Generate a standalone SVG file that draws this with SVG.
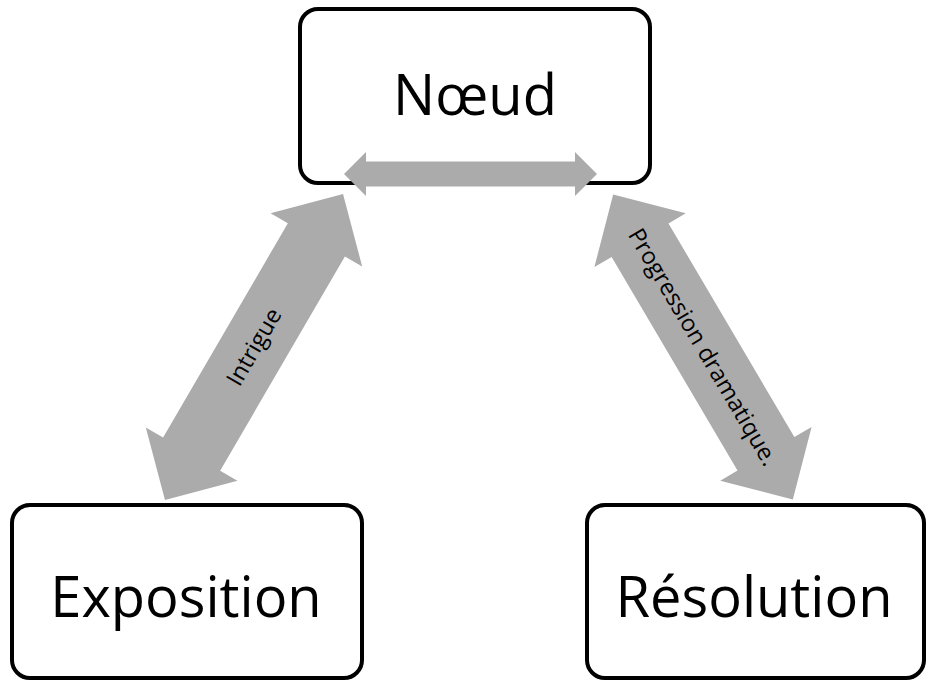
<svg xmlns="http://www.w3.org/2000/svg" width="927" height="680" viewBox="0 0 927 680">
<style>
.box{fill:#fff;stroke:#000;stroke-width:4}
.big{font-family:"Open Sans","Liberation Sans",sans-serif;font-size:56px;fill:#000;text-anchor:middle}
.lbl{font-family:"Open Sans","Liberation Sans",sans-serif;font-size:23.5px;fill:#000;text-anchor:middle}
.arr{fill:#ABABAB}
</style>
<defs>
<path id="darr" d="M -177 0 L -124 -53 L -124 -33 L 124 -33 L 124 -53 L 177 0 L 124 53 L 124 33 L -124 33 L -124 53 Z"/>
</defs>
<g id="noeud">
<rect class="box" x="300" y="9" width="350" height="174" rx="18"/>
<text class="big" x="475" y="115">Nœud</text>
</g>
<g id="exposition">
<rect class="box" x="12" y="505" width="350" height="173" rx="18"/>
<text class="big" x="186" y="617">Exposition</text>
</g>
<g id="resolution">
<rect class="box" x="587" y="505" width="337" height="173" rx="18"/>
<text class="big" x="754" y="617">Résolution</text>
</g>
<g id="connectors">
<path class="arr" d="M 344 174 L 366 152 L 366 161.5 L 575 161.5 L 575 152 L 597 174 L 575 196 L 575 186.5 L 366 186.5 L 366 196 Z"/>
<g transform="translate(254,347) rotate(-59.8)">
<use href="#darr" class="arr"/>
<text class="lbl" x="0" y="8">Intrigue</text>
</g>
<g transform="translate(703,347) rotate(59.5)">
<use href="#darr" class="arr"/>
<text class="lbl" x="0" y="8">Progression dramatique.</text>
</g>
</g>
</svg>
